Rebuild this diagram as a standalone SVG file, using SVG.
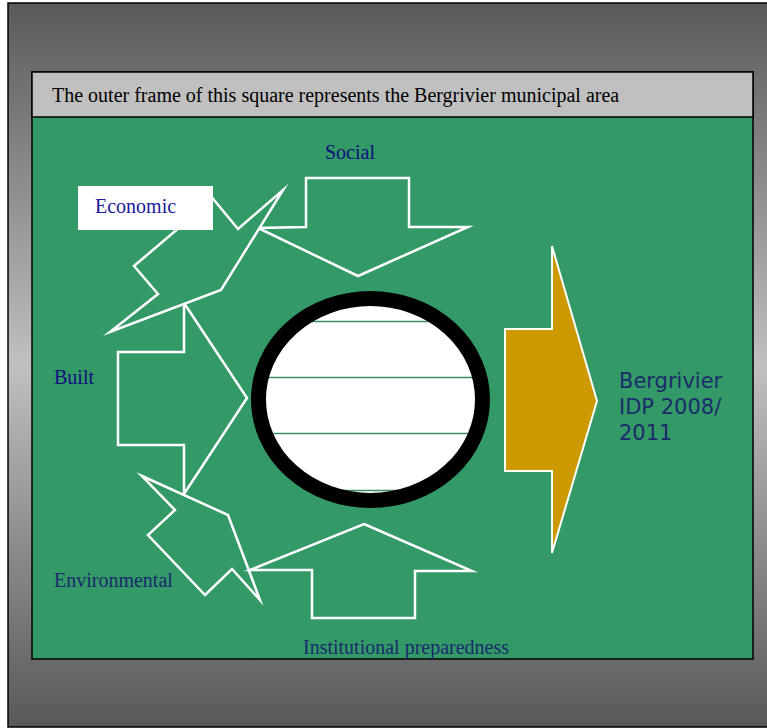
<svg xmlns="http://www.w3.org/2000/svg" width="767" height="728" viewBox="0 0 767 728">
<defs>
<linearGradient id="bg" x1="0" y1="0" x2="0" y2="1">
<stop offset="0" stop-color="#5a5a5a"/>
<stop offset="0.5" stop-color="#c0c0c0"/>
<stop offset="1" stop-color="#585858"/>
</linearGradient>
<clipPath id="inner"><ellipse cx="370.5" cy="399.5" rx="105" ry="94"/></clipPath>
<style>
.arr{fill:#339966;stroke:#ffffff;stroke-width:2.5;stroke-linejoin:miter;stroke-miterlimit:20}
.lbl{font-family:"Liberation Serif","Times New Roman",serif;font-size:20px}
.tl{stroke:#3d8a62;stroke-width:1.5}
</style>
</defs>
<rect x="8" y="3" width="790" height="724" fill="url(#bg)" stroke="#000" stroke-width="1.5"/>
<g id="frame">
<rect x="32" y="72" width="721" height="587" fill="#339966" stroke="#000" stroke-width="1.5"/>
<rect x="32" y="72" width="721" height="45" fill="#c0c0c0" stroke="#000" stroke-width="1.5"/>
<text x="52" y="102" class="lbl" fill="#000">The outer frame of this square represents the Bergrivier municipal area</text>
</g>
<g id="connectors">
<g id="built"><polygon class="arr" points="118,352 184,352 184,303 247,398 184,494 184,445 118,445"/></g>
<g id="social"><polygon class="arr" points="306,178 409,178 409,227 468,227 358,276 258,228 306,227"/></g>
<g id="economic-arrow"><polygon class="arr" points="205,189 238,229 283,190 221,290 110,332 158,294 134,266 200,210"/></g>
<g id="environmental-arrow"><polygon class="arr" points="142,476 228,515 260,600 232,569 205,595 148,535 175,510"/></g>
<g id="institutional-arrow"><polygon class="arr" points="364,524 472,571 415,571 415,618 312,618 312,570 250,570"/></g>
<g id="output-arrow"><polygon points="505,329 552,329 552,246 597,401 552,553 552,471 505,471" fill="#cc9900" stroke="#fff" stroke-width="2"/></g>
</g>
<g id="centre">
<ellipse cx="370.5" cy="399.5" rx="112" ry="101" fill="#fff"/>
<g clip-path="url(#inner)">
<line class="tl" x1="250" y1="321.5" x2="490" y2="321.5"/>
<line class="tl" x1="250" y1="377.5" x2="490" y2="377.5"/>
<line class="tl" x1="250" y1="433.5" x2="490" y2="433.5"/>
<line class="tl" x1="250" y1="490.5" x2="490" y2="490.5"/>
</g>
<ellipse cx="370.5" cy="399.5" rx="112" ry="101" fill="none" stroke="#000" stroke-width="15"/>
</g>
<g id="economic">
<rect x="78" y="186" width="135" height="44" fill="#fff"/>
<text x="95" y="213" class="lbl" fill="#1a1a9a">Economic</text>
</g>
<g id="labels">
<text x="325" y="159" class="lbl" fill="#10107e">Social</text>
<text x="54" y="384" class="lbl" fill="#10107e">Built</text>
<text x="54" y="587" class="lbl" fill="#1a2a6e">Environmental</text>
<text x="303" y="654" class="lbl" fill="#1a2a6e">Institutional preparedness</text>
</g>
<g id="idp" font-family="'DejaVu Sans',Verdana,sans-serif" font-size="21" fill="#1c2b6b">
<text x="619" y="388">Bergrivier</text>
<text x="619" y="414">IDP 2008/</text>
<text x="619" y="440">2011</text>
</g>
</svg>
